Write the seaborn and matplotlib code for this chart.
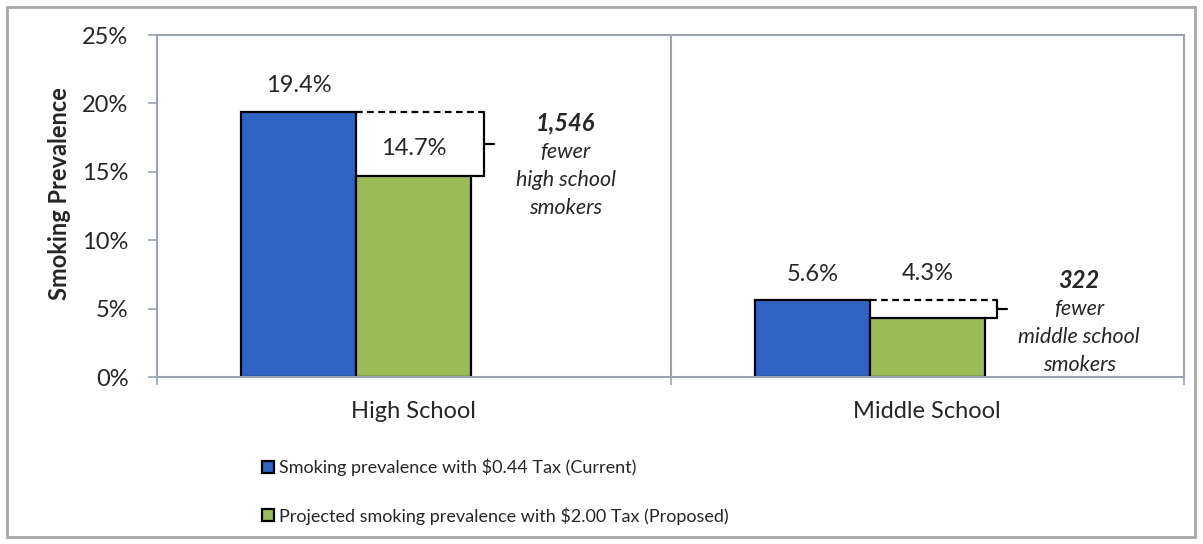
import numpy as np
import pandas as pd
import matplotlib
matplotlib.use("Agg")
import matplotlib.pyplot as plt
import seaborn as sns
from matplotlib.patches import Rectangle
from matplotlib.ticker import FuncFormatter, FixedLocator

# data
schools = ["High School", "Middle School"]
current = [19.4, 5.6]
proposed = [14.7, 4.3]
fewer = ["1,546", "322"]
who = ["high school", "middle school"]
series = ["Smoking prevalence with $0.44 Tax (Current)",
          "Projected smoking prevalence with $2.00 Tax (Proposed)"]
yticks = [0, 5, 10, 15, 20, 25]

blue = "#2F63C4"
green = "#9BBB59"
axis_grey = "#9AA3AE"

sns.set_style("white")
plt.rcParams["font.family"] = ["Lato", "DejaVu Sans"]

# third (empty) series keeps a blank slot to the right of each pair, like the original
spacer = " "
df = pd.DataFrame({
    "school": schools * 2,
    "value": current + proposed,
    "series": [series[0]] * 2 + [series[1]] * 2,
})

fig = plt.figure(figsize=(12.03, 5.44), dpi=100)
ax = fig.add_axes([157/1203, 1 - 377/544, (1184-157)/1203, (377-35)/544])

sns.barplot(data=df, x="school", y="value", hue="series", order=schools,
            hue_order=series + [spacer], palette=[blue, green, "white"], width=0.672,
            gap=0, edgecolor="black", linewidth=1.6, saturation=1, ax=ax, legend=True)

ax.set_xlim(-0.5, 1.5)
ax.set_ylim(0, 25)
ax.set_yticks(yticks)
ax.yaxis.set_major_formatter(FuncFormatter(lambda v, p: f"{v:.0f}%"))
ax.tick_params(axis="y", length=6.5, width=1.2, color=axis_grey, direction="out",
               labelsize=17, pad=14, left=True)
ax.set_ylabel("Smoking Prevalence", fontsize=17, fontweight="bold")
ax.yaxis.set_label_coords(-0.084, 0.535)
ax.set_xlabel("")
ax.tick_params(axis="x", which="major", length=0, labelsize=17, pad=17)
ax.xaxis.set_minor_locator(FixedLocator([-0.5, 0.5, 1.5]))
ax.tick_params(axis="x", which="minor", length=6, width=1.2, color=axis_grey,
               direction="out", bottom=True)
for s in ax.spines.values():
    s.set_visible(True)
    s.set_color(axis_grey)
    s.set_linewidth(1.5)
ax.axvline(0.5, color=axis_grey, lw=1.5, zorder=0)

bw = 0.224
for i in range(len(schools)):
    c, p = current[i], proposed[i]
    ax.text(i - bw, c + 1.9, f"{c}%", ha="center", va="center", fontsize=17)
    py = p + 2.0 if c - p > 3 else c + 2.0
    ax.text(i, py, f"{p}%", ha="center", va="center", fontsize=17)
    # dashed reference line and bracket
    xr = i + bw/2 + 0.024
    ax.plot([i - bw/2, xr], [c, c], ls=(0, (3, 2)), color="black", lw=1.6)
    ax.plot([i + bw/2, xr], [p, p], color="black", lw=1.6)
    ax.plot([xr, xr], [p, c], color="black", lw=1.6)
    ax.plot([xr, xr + 0.02], [(c + p)/2, (c + p)/2], color="black", lw=1.6)
    # note text
    tx = i + 0.296
    top = (c + p)/2 + (1.5 if i == 0 else 2.1)
    ax.text(tx, top, fewer[i], ha="center", va="center", fontsize=17,
            fontweight="bold", style="italic")
    ax.text(tx, top - 1.35, "fewer\n" + who[i] + "\nsmokers", ha="center",
            va="top", fontsize=15.5, style="italic", linespacing=1.5)

handles, labels = ax.get_legend_handles_labels()
ax.get_legend().remove()
fig.legend(handles[:2], labels[:2], loc="upper left", bbox_to_anchor=(262/1203, 1 - 459/544),
           frameon=False, fontsize=13, handlelength=0.65, handleheight=0.65,
           handletextpad=0.3, labelspacing=1.7, borderpad=0, borderaxespad=0)

fig.patches.append(Rectangle((7/1203, 7/544), 1188/1203, 530/544, transform=fig.transFigure,
                             fill=False, edgecolor="#A8A8A8", lw=2))

fig.savefig("out.png", dpi=100)
